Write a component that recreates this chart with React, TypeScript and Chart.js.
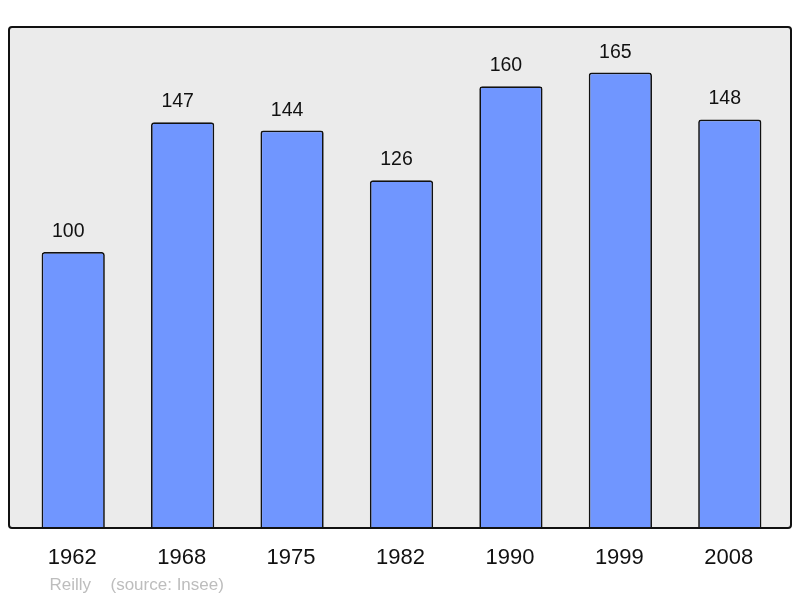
import React, { useEffect, useRef } from "react";
import { Chart, registerables } from "chart.js";

Chart.register(...registerables);

const years = ["1962", "1968", "1975", "1982", "1990", "1999", "2008"];
const population = [100, 147, 144, 126, 160, 165, 148];
const yMax = 181.5;
const footerName = "Reilly";
const footerSource = "(source: Insee)";

const FONT = "'Liberation Sans', Arial, sans-serif";

const framePlugin = {
  id: "frame",
  beforeDatasetsDraw(chart: any) {
    const { ctx, chartArea } = chart;
    const l = chartArea.left - 9.5;
    const r = chartArea.right + 6.5;
    const t = chartArea.top;
    const b = chartArea.bottom;
    ctx.save();
    ctx.beginPath();
    ctx.roundRect(l, t, r - l, b - t, 3);
    ctx.fillStyle = "#ebebeb";
    ctx.fill();
    ctx.restore();
  },
  afterDatasetsDraw(chart: any) {
    const { ctx, chartArea } = chart;
    const l = chartArea.left - 9.5;
    const r = chartArea.right + 6.5;
    const t = chartArea.top;
    const b = chartArea.bottom;
    ctx.save();
    ctx.beginPath();
    ctx.roundRect(l, t, r - l, b - t, 3);
    ctx.lineWidth = 2;
    ctx.strokeStyle = "#111";
    ctx.stroke();

    // value labels
    const meta = chart.getDatasetMeta(0);
    ctx.fillStyle = "#111";
    ctx.font = `19.5px ${FONT}`;
    ctx.textAlign = "center";
    ctx.textBaseline = "alphabetic";
    meta.data.forEach((bar: any, i: number) => {
      ctx.fillText(String(population[i]), bar.x - 5, bar.y - 15);
    });

    // category labels
    const xs = chart.scales.x;
    ctx.font = `22px ${FONT}`;
    years.forEach((y, i) => {
      ctx.fillText(y, xs.getPixelForValue(i) - 1, chartArea.bottom + 36);
    });

    // footer
    ctx.fillStyle = "#bdbdbd";
    ctx.font = `17px ${FONT}`;
    ctx.textAlign = "left";
    ctx.fillText(footerName, chartArea.left + 31, chartArea.bottom + 62);
    ctx.fillText(footerSource, chartArea.left + 92, chartArea.bottom + 62);
    ctx.restore();
  },
};

export default function App() {
  const ref = useRef<HTMLCanvasElement | null>(null);
  useEffect(() => {
    if (!ref.current) return;
    const chart = new Chart(ref.current, {
      type: "bar",
      data: {
        labels: years,
        datasets: [
          {
            data: population,
            backgroundColor: "#7096ff",
            borderColor: "#111",
            borderWidth: 1.7,
            borderRadius: 3,
            borderSkipped: "bottom",
            barPercentage: 0.578,
            categoryPercentage: 1,
          },
        ],
      },
      options: {
        animation: false,
        responsive: false,
        maintainAspectRatio: false,
        devicePixelRatio: 1,
        layout: { padding: { left: 18.5, right: 15.5, top: 27, bottom: 70 } },
        plugins: {
          legend: { display: false },
          tooltip: { enabled: false },
        },
        scales: {
          x: { display: false },
          y: { display: false, min: 0, max: yMax },
        },
      },
      plugins: [framePlugin],
    });
    return () => chart.destroy();
  }, []);
  return (
    <div style={{ position: "absolute", left: 0, top: 0, width: 800, height: 598, background: "#fff" }}>
      <canvas ref={ref} width={800} height={598} style={{ width: 800, height: 598, display: "block" }} />
    </div>
  );
}
